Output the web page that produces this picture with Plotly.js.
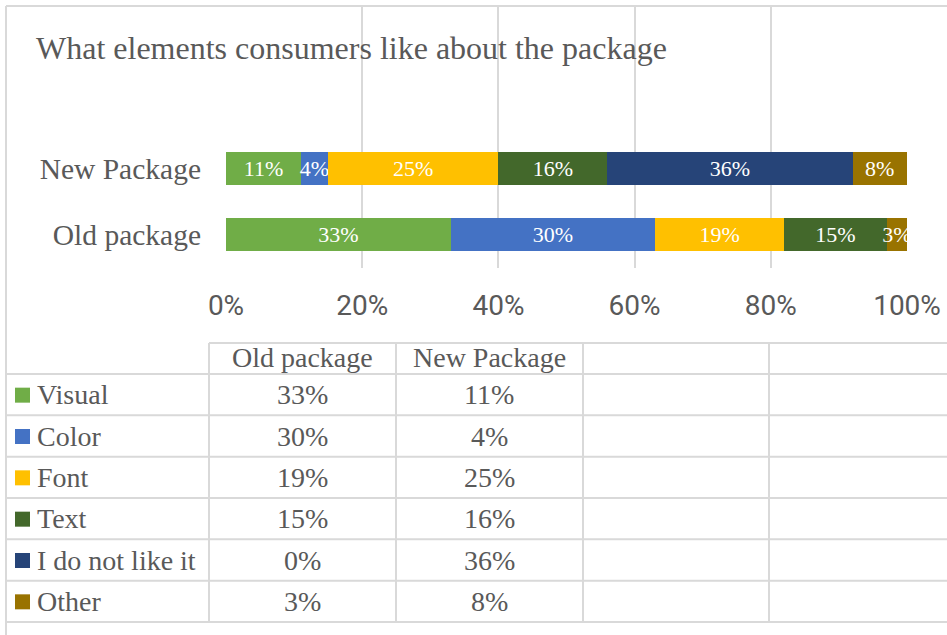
<!DOCTYPE html>
<html>
<head>
<meta charset="utf-8">
<script src="https://cdn.plot.ly/plotly-3.0.1.min.js"></script>
<style>html,body{margin:0;padding:0;background:#fff;}#chart{width:947px;height:635px;}</style>
</head>
<body>
<div id="chart"></div>
<script>
// ---- data ----
const chartTitle = 'What elements consumers like about the package';
const categories = ['Old package', 'New Package'];
const seriesNames = ['Visual', 'Color', 'Font', 'Text', 'I do not like it', 'Other'];
const oldValues = [33, 30, 19, 15, 0, 3];
const newValues = [11, 4, 25, 16, 36, 8];
const xTickVals = [0, 20, 40, 60, 80, 100];
const xTickText = ['0%', '20%', '40%', '60%', '80%', '100%'];

// ---- style ----
const seriesColors = ['#70AD47', '#4472C4', '#FFC000', '#43682B', '#264478', '#997300'];
const W = 947, H = 635;
const serif = 'Liberation Serif, Times New Roman, serif';
const sans = 'Liberation Sans Narrow, Roboto, sans-serif';
const grey = '#595959';
const lineCol = '#d9d9d9';
const px = x => x / W;
const py = y => 1 - y / H;

const traces = seriesNames.map((name, i) => {
  const vals = [oldValues[i], newValues[i]];
  return {
    type: 'bar', orientation: 'h', name: name,
    y: categories, x: vals,
    marker: {color: seriesColors[i], line: {width: 0}},
    text: vals.map(v => v > 0 ? v + '%' : ''),
    textposition: 'inside', insidetextanchor: 'middle', textangle: 0,
    constraintext: 'none',
    textfont: {family: serif, size: 22, color: '#ffffff'},
    hoverinfo: 'skip'
  };
});

// ---- data table (built from the arrays) ----
const colEdges = [6, 209, 396, 583, 769, 956];
const headerTop = 343, headerBottom = 374, tableBottom = 622;
const rowH = (tableBottom - headerBottom) / seriesNames.length;
const shapes = [];
const annotations = [];
const ln = {color: lineCol, width: 2};

// outer frame
shapes.push({type: 'line', xref: 'paper', yref: 'paper', x0: px(6), x1: px(6), y0: py(6), y1: py(H + 10), line: ln});
shapes.push({type: 'line', xref: 'paper', yref: 'paper', x0: px(6), x1: px(W + 10), y0: py(6), y1: py(6), line: ln});
// header top
shapes.push({type: 'line', xref: 'paper', yref: 'paper', x0: px(colEdges[1]), x1: px(W + 10), y0: py(headerTop), y1: py(headerTop), line: ln});
// row lines
for (let r = 0; r <= seriesNames.length; r++) {
  const y = headerBottom + r * rowH;
  shapes.push({type: 'line', xref: 'paper', yref: 'paper', x0: px(6), x1: px(W + 10), y0: py(y), y1: py(y), line: ln});
}
// column lines
for (let c = 1; c < colEdges.length - 1; c++) {
  shapes.push({type: 'line', xref: 'paper', yref: 'paper', x0: px(colEdges[c]), x1: px(colEdges[c]), y0: py(headerTop), y1: py(tableBottom), line: ln});
}
// header text
categories.forEach((cat, c) => {
  annotations.push({xref: 'paper', yref: 'paper', x: px((colEdges[c + 1] + colEdges[c + 2]) / 2), y: py((headerTop + headerBottom) / 2 - 1),
    xanchor: 'center', yanchor: 'middle', showarrow: false, text: cat, font: {family: serif, size: 28, color: grey}});
});
// rows
seriesNames.forEach((name, r) => {
  const yc = headerBottom + (r + 0.5) * rowH;
  shapes.push({type: 'rect', xref: 'paper', yref: 'paper', x0: px(15), x1: px(30), y0: py(yc - 7), y1: py(yc + 8),
    fillcolor: seriesColors[r], line: {width: 0}});
  annotations.push({xref: 'paper', yref: 'paper', x: px(35), y: py(yc), xanchor: 'left', yanchor: 'middle',
    showarrow: false, text: name, font: {family: serif, size: 28, color: grey}});
  [oldValues[r], newValues[r]].forEach((v, c) => {
    annotations.push({xref: 'paper', yref: 'paper', x: px((colEdges[c + 1] + colEdges[c + 2]) / 2), y: py(yc),
      xanchor: 'center', yanchor: 'middle', showarrow: false, text: v + '%', font: {family: serif, size: 28, color: grey}});
  });
});
// title
annotations.push({xref: 'paper', yref: 'paper', x: px(34), y: py(48), xanchor: 'left', yanchor: 'middle',
  showarrow: false, text: chartTitle, font: {family: serif, size: 32, color: grey}});

const layout = {
  width: W, height: H,
  margin: {l: 0, r: 0, t: 0, b: 0},
  paper_bgcolor: '#ffffff', plot_bgcolor: 'rgba(0,0,0,0)',
  barmode: 'stack', bargap: 0.5, showlegend: false,
  xaxis: {domain: [px(226), px(907)], range: [0, 100], tickvals: xTickVals, ticktext: xTickText,
    showgrid: true, gridcolor: lineCol, gridwidth: 2, zeroline: false, showline: false, ticks: '',
    ticklabelstandoff: 18, tickfont: {family: sans, size: 28, color: grey}, fixedrange: true},
  yaxis: {domain: [py(267.5), py(6)], type: 'category', categoryarray: categories, range: [-0.5, 3.46],
    showgrid: false, zeroline: false, showline: false, ticks: '', ticklabelstandoff: 24,
    tickfont: {family: serif, size: 29.5, color: grey}, fixedrange: true},
  shapes: shapes,
  annotations: annotations
};

Plotly.newPlot('chart', traces, layout, {displayModeBar: false, staticPlot: true});
</script>
</body>
</html>
